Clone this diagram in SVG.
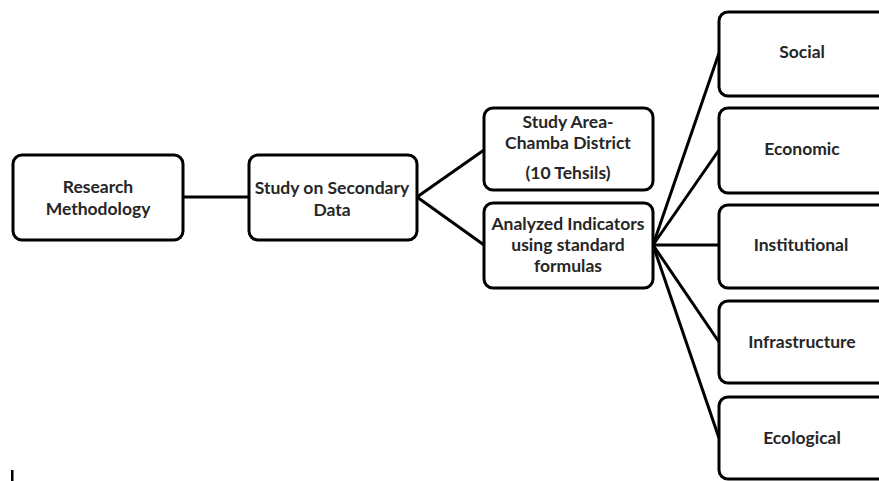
<svg xmlns="http://www.w3.org/2000/svg" width="879" height="481" viewBox="0 0 879 481">
<style>
.box{fill:#fff;stroke:#000;stroke-width:3}
.t{font-family:Lato,"Open Sans","Liberation Sans",sans-serif;font-weight:700;font-size:17.5px;fill:#262626;text-anchor:middle}
.c{stroke:#000;stroke-width:3;fill:none}
</style>
<rect width="879" height="481" fill="#fff"/>
<g id="connectors">
<line class="c" x1="183" y1="197" x2="249" y2="197"/>
<line class="c" x1="417" y1="197" x2="484" y2="150"/>
<line class="c" x1="417" y1="197" x2="484" y2="245"/>
<line class="c" x1="653" y1="245" x2="719" y2="53"/>
<line class="c" x1="653" y1="245" x2="719" y2="150"/>
<line class="c" x1="653" y1="245" x2="719" y2="245"/>
<line class="c" x1="653" y1="245" x2="719" y2="342"/>
<line class="c" x1="653" y1="245" x2="719" y2="438"/>
</g>
<g id="research">
<rect class="box" x="13" y="155" width="170" height="85" rx="9"/>
<text class="t" x="98" y="193">Research</text>
<text class="t" x="98" y="215">Methodology</text>
</g>
<g id="secondary">
<rect class="box" x="249" y="155" width="168" height="85" rx="9"/>
<text class="t" x="332" y="194">Study on Secondary</text>
<text class="t" x="332" y="216">Data</text>
</g>
<g id="studyarea">
<rect class="box" x="484" y="108" width="169" height="82" rx="9"/>
<text class="t" x="568" y="128">Study Area-</text>
<text class="t" x="568" y="149">Chamba District</text>
<text class="t" x="568" y="179">(10 Tehsils)</text>
</g>
<g id="analyzed">
<rect class="box" x="484" y="203" width="169" height="85" rx="9"/>
<text class="t" x="568" y="230">Analyzed Indicators</text>
<text class="t" x="568" y="251">using standard</text>
<text class="t" x="568" y="272">formulas</text>
</g>
<g id="social">
<rect class="box" x="719" y="12" width="180" height="84" rx="9"/>
<text class="t" x="802" y="58">Social</text>
</g>
<g id="economic">
<rect class="box" x="719" y="108" width="180" height="85" rx="9"/>
<text class="t" x="802" y="155">Economic</text>
</g>
<g id="institutional">
<rect class="box" x="719" y="205" width="180" height="83" rx="9"/>
<text class="t" x="801" y="251">Institutional</text>
</g>
<g id="infrastructure">
<rect class="box" x="719" y="301" width="180" height="82" rx="9"/>
<text class="t" x="802" y="348">Infrastructure</text>
</g>
<g id="ecological">
<rect class="box" x="719" y="397" width="180" height="82" rx="9"/>
<text class="t" x="802" y="444">Ecological</text>
</g>
<rect x="11" y="470" width="2.5" height="11" fill="#000"/>
</svg>
